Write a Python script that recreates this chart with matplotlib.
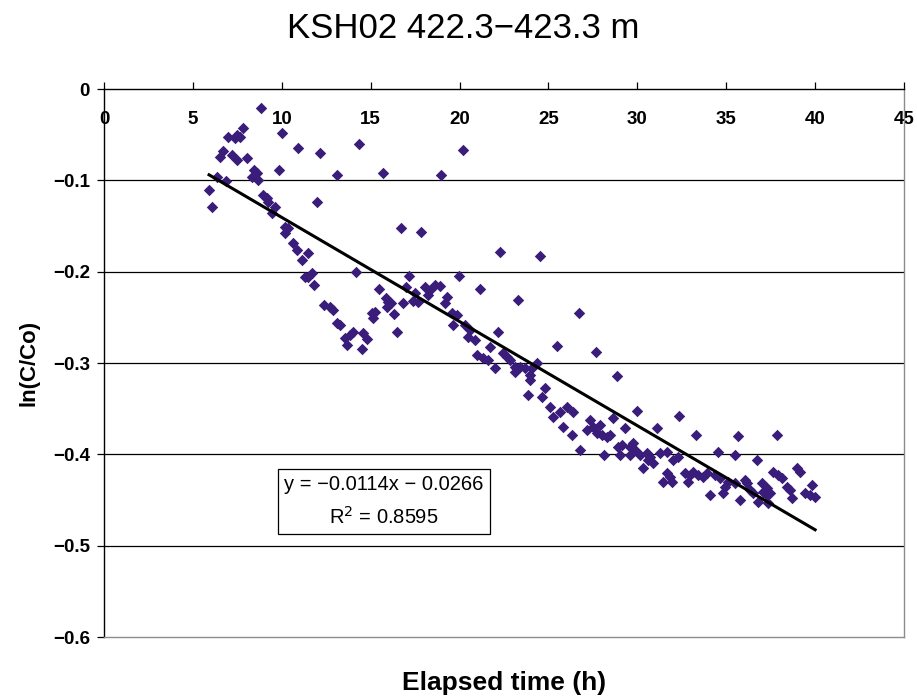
import numpy as np
import matplotlib
matplotlib.use('Agg')
import matplotlib.pyplot as plt

plt.rcParams['font.family'] = ['Liberation Sans', 'DejaVu Sans']

# elapsed time (h) and ln(C/Co)
time_h = [
    5.91, 6.07, 6.36, 6.52, 6.69, 6.86, 6.97, 7.20, 7.37, 7.48,
    7.65, 7.82, 8.04, 8.44, 8.33, 8.66, 8.83, 8.94, 9.17, 9.62,
    9.45, 9.84, 10.01, 10.18, 10.35, 10.18, 10.63, 10.86, 11.47, 11.14,
    10.91, 11.31, 11.70, 11.81, 11.98, 12.15, 12.37, 12.71, 12.88, 13.11,
    13.11, 13.27, 13.56, 13.84, 14.01, 13.67, 14.17, 14.34, 14.57, 14.79,
    14.51, 15.07, 15.24, 15.13, 15.47, 15.69, 15.86, 15.97, 16.14, 15.92,
    16.31, 16.48, 16.71, 16.82, 17.16, 16.99, 17.49, 17.38, 17.66, 17.83,
    18.06, 18.34, 18.22, 18.62, 18.90, 18.96, 19.29, 19.18, 19.57, 19.86,
    19.63, 19.97, 20.19, 20.31, 20.59, 20.48, 20.87, 21.15, 20.98, 21.32,
    21.71, 21.60, 21.99, 22.16, 22.28, 22.44, 22.67, 22.84, 23.12, 23.12,
    23.29, 23.40, 23.68, 23.96, 24.36, 24.07, 23.96, 24.52, 24.81, 23.85,
    24.64, 25.09, 25.26, 25.65, 26.04, 26.38, 25.48, 25.82, 26.32, 26.72,
    26.77, 27.34, 27.51, 27.17, 27.67, 27.90, 28.01, 27.73, 28.29, 28.46,
    28.12, 28.63, 28.86, 29.31, 28.91, 29.14, 29.59, 29.76, 29.87, 29.59,
    29.02, 29.98, 30.15, 30.54, 30.71, 30.32, 30.88, 30.60, 31.11, 31.27,
    31.67, 32.01, 32.29, 32.34, 31.67, 31.44, 31.95, 31.84, 32.68, 32.96,
    33.13, 32.85, 33.41, 33.69, 33.92, 33.30, 34.54, 35.49, 35.66, 36.73,
    37.86, 34.09, 34.82, 34.93, 34.37, 34.65, 35.10, 35.49, 36.06, 36.17,
    35.77, 36.34, 36.79, 36.51, 37.01, 37.29, 37.29, 37.07, 37.46, 37.63,
    37.91, 38.14, 37.35, 38.42, 38.59, 38.70, 38.98, 39.15, 39.43, 39.71,
    39.83, 40.00, 9.22, 8.60, 7.48, 11.47,
]
ln_c = [
    -0.111, -0.129, -0.096, -0.074, -0.068, -0.101, -0.053, -0.072, -0.054, -0.078,
    -0.053, -0.043, -0.076, -0.089, -0.096, -0.100, -0.021, -0.116, -0.119, -0.129,
    -0.136, -0.089, -0.048, -0.151, -0.152, -0.158, -0.169, -0.176, -0.180, -0.187,
    -0.065, -0.206, -0.201, -0.215, -0.124, -0.070, -0.237, -0.239, -0.242, -0.094,
    -0.256, -0.258, -0.273, -0.269, -0.266, -0.280, -0.200, -0.060, -0.267, -0.274,
    -0.285, -0.245, -0.244, -0.251, -0.219, -0.092, -0.229, -0.233, -0.234, -0.239,
    -0.246, -0.266, -0.152, -0.234, -0.205, -0.217, -0.223, -0.232, -0.233, -0.157,
    -0.217, -0.220, -0.226, -0.215, -0.216, -0.094, -0.228, -0.234, -0.245, -0.247,
    -0.258, -0.205, -0.067, -0.258, -0.264, -0.272, -0.275, -0.219, -0.291, -0.295,
    -0.282, -0.297, -0.305, -0.266, -0.178, -0.289, -0.293, -0.297, -0.304, -0.310,
    -0.231, -0.304, -0.305, -0.313, -0.300, -0.305, -0.319, -0.183, -0.327, -0.335,
    -0.337, -0.348, -0.359, -0.354, -0.348, -0.354, -0.281, -0.370, -0.379, -0.245,
    -0.395, -0.362, -0.370, -0.373, -0.288, -0.368, -0.379, -0.377, -0.381, -0.379,
    -0.401, -0.360, -0.314, -0.371, -0.392, -0.390, -0.392, -0.388, -0.395, -0.401,
    -0.401, -0.353, -0.401, -0.399, -0.403, -0.415, -0.410, -0.406, -0.371, -0.399,
    -0.397, -0.406, -0.403, -0.358, -0.420, -0.430, -0.430, -0.425, -0.420, -0.423,
    -0.419, -0.430, -0.423, -0.425, -0.420, -0.379, -0.397, -0.401, -0.380, -0.406,
    -0.379, -0.445, -0.442, -0.436, -0.423, -0.426, -0.430, -0.431, -0.428, -0.431,
    -0.450, -0.439, -0.452, -0.442, -0.431, -0.437, -0.445, -0.441, -0.442, -0.419,
    -0.423, -0.426, -0.453, -0.436, -0.439, -0.448, -0.415, -0.419, -0.442, -0.445,
    -0.434, -0.447, -0.124, -0.092, -0.050, -0.206,
]

# linear trend as printed on the chart
slope = -0.0114
intercept = -0.0266
r2 = 0.8595

x_ticks = [0, 5, 10, 15, 20, 25, 30, 35, 40, 45]
y_ticks = [0, -0.1, -0.2, -0.3, -0.4, -0.5, -0.6]


def main():
    fig = plt.figure(figsize=(9.17, 6.99), dpi=100)
    ax = fig.add_axes([104 / 917, 62 / 699, 800 / 917, 548 / 699])

    ax.set_xlim(0, 45)
    ax.set_ylim(-0.6, 0)

    for yv in y_ticks[1:-1]:
        ax.axhline(yv, color='black', lw=0.9, zorder=1)

    ax.scatter(time_h, ln_c, marker='D', s=34, color='#3a1c7a',
               linewidths=0, zorder=3)

    xs = np.array([min(time_h), max(time_h)])
    ax.plot(xs, slope * xs + intercept, color='black', lw=2.2, zorder=4)

    eq = 'y = \u22120.0114x \u2212 0.0266\nR$^2$ = %.4f' % r2
    ax.text(0.35, 0.247, eq, transform=ax.transAxes, ha='center', va='center',
            fontsize=14.5, linespacing=1.65, zorder=5,
            bbox=dict(boxstyle='square,pad=0.3', fc='white', ec='black', lw=0.9))

    ax.xaxis.tick_top()
    ax.set_xticks(x_ticks)
    ax.set_yticks(y_ticks)
    ax.set_yticklabels(['0', '\u22120.1', '\u22120.2', '\u22120.3', '\u22120.4',
                        '\u22120.5', '\u22120.6'])
    ax.tick_params(axis='x', direction='out', length=5, width=0.9, pad=-33,
                   labelsize=13.5)
    ax.tick_params(axis='y', direction='out', length=5, width=0.9, pad=5,
                   labelsize=13.5)
    for lab in ax.get_xticklabels() + ax.get_yticklabels():
        lab.set_fontweight('bold')

    ax.spines['top'].set_color('black')
    ax.spines['left'].set_color('black')
    ax.spines['right'].set_color('#8c8c8c')
    ax.spines['bottom'].set_color('#8c8c8c')
    for sp in ax.spines.values():
        sp.set_linewidth(1.0)

    fig.text(463 / 917, 1 - 28 / 699, 'KSH02 422.3\u2212423.3 m', ha='center',
             va='center', fontsize=25)
    fig.text(504 / 917, 1 - 683 / 699, 'Elapsed time (h)', ha='center',
             va='center', fontsize=19, fontweight='bold')
    fig.text(29 / 917, 1 - 363 / 699, 'ln(C/Co)', ha='center', va='center',
             rotation=90, fontsize=16, fontweight='bold')

    fig.savefig('out.png', dpi=100)


if __name__ == '__main__':
    main()
